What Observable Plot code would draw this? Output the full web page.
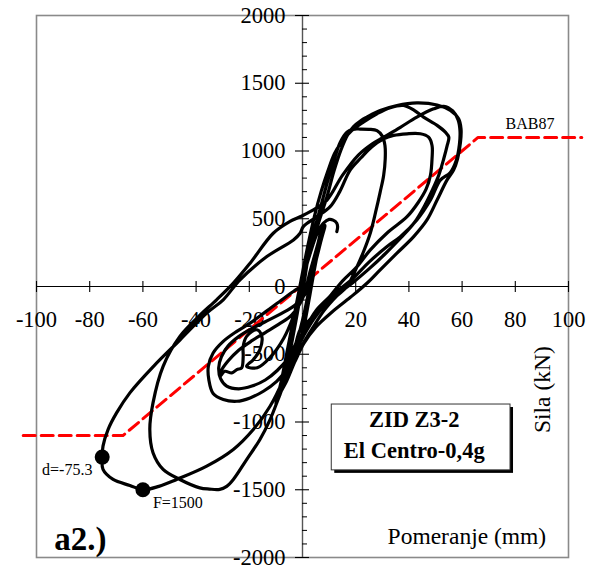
<!DOCTYPE html>
<html>
<head>
<meta charset="utf-8">
<script src="https://cdn.jsdelivr.net/npm/d3@7"></script>
<script src="https://cdn.jsdelivr.net/npm/@observablehq/plot@0.6"></script>
<style>
  body { margin: 0; background: #fff; }
</style>
</head>
<body>
<div id="chart"></div>
<script>
// Hysteresis trace of wall ZID Z3-2 (El Centro 0.4g): displacement [mm], force [kN]
// Early small cycles around the origin
const smallCycles = [
  [0, 0], [-2.1, -20], [-7.2, -90], [-13.4, -180], [-19.7, -270], [-24.7, -331], [-29.8, -405],
  [-33.6, -491], [-35.4, -589], [-35.2, -690], [-33.6, -790], [-29.8, -834], [-24.7, -847],
  [-19.7, -822], [-14.7, -773], [-9.7, -700], [-5.9, -613], [-2.1, -491], [0.5, -300], [2.8, -60],
  [5, 180], [7.2, 380], [8.5, 450],
  [7, 340], [4.5, 150], [1.5, -40], [-3, -140], [-8, -200], [-14, -260], [-19, -310], [-24, -370],
  [-28, -440], [-30.5, -520], [-31.5, -600], [-30.8, -680], [-28.5, -735], [-24, -755], [-19, -735],
  [-14, -690], [-9.5, -620], [-5.5, -530], [-2.5, -420], [0, -250], [2.5, -20], [4.8, 220],
  [6.8, 400], [7.8, 460],
  [6, 330], [3, 120], [0, -90], [-4, -210], [-9, -280], [-14, -340], [-19, -400], [-24, -470],
  [-28, -550], [-30.5, -620], [-31, -663], [-29.2, -626], [-26.6, -638], [-24.7, -613],
  [-22.9, -601], [-22.3, -520], [-22.3, -442], [-21, -368], [-17.2, -319], [-15.3, -368],
  [-16, -466], [-18.5, -540], [-21, -589], [-17, -600], [-12, -520], [-7, -380], [-3, -200],
  [0, -30]
];
// First large positive excursion, reversing at small negative displacement
const cycle1 = [
  [2, 200], [4.5, 420], [7, 600], [9.5, 780], [11.8, 930], [14.2, 1065], [16.7, 1139], [19, 1160],
  [21.7, 1162], [25, 1160], [28, 1150], [30, 1110], [31, 1040], [31.1, 943], [30.5, 820],
  [29.2, 697], [27.5, 550], [25.5, 395], [23, 260], [20.5, 147], [16.7, 0], [12.9, -70],
  [8, -180], [4, -300], [0.3, -420], [-3, -560], [-6, -700], [-8.5, -790], [-9.5, -830],
  [-8, -760], [-5.5, -560], [-3.2, -330], [-1, -90], [0.3, 74], [2.9, 270], [6, 467],
  [9.2, 663], [11.8, 850]
];
// Outer positive loop followed by the inner large negative loop
const cycle2 = [
  [14.5, 1010], [17, 1120], [19.2, 1180], [22, 1225], [24.2, 1250], [29.2, 1299], [35.5, 1336],
  [43, 1355], [50.6, 1340], [55.6, 1299], [58.7, 1237], [59.6, 1163], [59.4, 1065], [58.3, 943],
  [56.8, 860], [54.3, 785], [50.6, 638], [46.8, 491], [41.8, 368], [35.5, 246], [29.2, 123],
  [24, 20], [18, -80], [11, -190], [5, -300], [0.5, -420], [-3, -560], [-6.5, -700],
  [-9.5, -850], [-12.2, -982], [-16, -1129], [-21, -1277], [-26, -1424], [-28.5, -1475],
  [-31.1, -1497], [-35, -1495], [-38.6, -1486], [-46.1, -1424], [-52.4, -1350], [-56.2, -1227],
  [-57.4, -1056], [-56.2, -859], [-52.4, -589], [-46.1, -368], [-39, -220], [-32.3, -98],
  [-26, 25], [-19.7, 172], [-11, 393], [-4.7, 480], [-0.9, 515], [4.1, 565], [9.2, 638]
];
// Second outer positive loop, reversing near the origin
const cycle3 = [
  [15, 820], [21, 970], [26, 1050], [30.5, 1102], [36.8, 1175], [43, 1250], [49.3, 1311],
  [53.1, 1330], [56.5, 1295], [58.5, 1230], [59.2, 1150], [59, 1050], [57.8, 930], [55.5, 840],
  [51.8, 785], [48.1, 638], [43, 491], [36.8, 368], [31.8, 295], [25, 180], [19, 60], [14, -20],
  [9, -120], [4.1, -245], [0.3, -368], [-3.4, -500], [-6, -650], [-8.5, -800], [-10, -870],
  [-8, -700], [-5.5, -450], [-3, -200], [-0.5, 50], [2, 300], [4.5, 520], [7, 700], [9.5, 850],
  [12, 980]
];
// Third positive loop, then the largest negative loop (peak displacement and force)
const cycle4 = [
  [14.5, 1060], [18.5, 1150], [23, 1215], [28, 1275], [33, 1320], [38, 1336], [42, 1300],
  [45.5, 1250], [50.6, 1189], [53.7, 1139], [55, 1102], [54.4, 1041], [53.1, 943], [51.2, 820],
  [49, 720], [46, 600], [42, 470], [37, 360], [31, 240], [25, 130], [19, 30], [13, -60],
  [7, -160], [2, -260], [-0.9, -319], [-3.4, -491], [-7.2, -687], [-12.2, -884], [-18.5, -1056],
  [-26, -1203], [-36, -1326], [-47.3, -1424], [-54, -1475], [-60, -1500], [-64.9, -1468],
  [-71.2, -1424], [-75, -1350], [-75.3, -1259], [-75, -1178], [-73.1, -1056], [-69.9, -933],
  [-64.9, -785], [-56, -589], [-46, -393], [-36, -196], [-29.8, -98], [-23.5, 49], [-13.4, 221],
  [-3.4, 344], [-0.9, 393], [0.3, 442], [5.4, 515], [10.4, 589]
];
// Last positive loop and the closing hook
const cycle5 = [
  [14, 700], [17.9, 859], [22, 950], [26, 1030], [30.5, 1090], [34.2, 1115], [39.3, 1127],
  [44.3, 1127], [47.4, 1102], [48.7, 1041], [48.7, 943], [48.1, 820], [46.5, 720], [43.5, 620],
  [39.3, 515], [31.7, 393], [25.5, 270], [20.5, 147], [15, 40], [10.4, -70], [5, -180],
  [0.5, -330], [-3, -480], [-5.5, -600], [-6.5, -650], [-4.5, -450], [-2, -180], [0.5, 80],
  [3, 250], [5.5, 390], [7.9, 467], [10, 495], [11.5, 490], [12.9, 467], [13.2, 440],
  [12.9, 405]
];

// BAB87 bilinear envelope
const modelDisp = [-105, -67.5, 66, 105];
const modelForce = [-1100, -1100, 1100, 1100];

// Marked peaks
const peakDisp = [-75.3, -60];
const peakForce = [-1259, -1500];
const peakLabels = ["d=-75.3", "F=1500"];

// Axis ticks
const xTicks = [-100, -80, -60, -40, -20, 0, 20, 40, 60, 80, 100];
const xTickLabels = [-100, -80, -60, -40, -20, 20, 40, 60, 80, 100];
const yTicks = [-2000, -1500, -1000, -500, 0, 500, 1000, 1500, 2000];
const yMinor = d3.range(-2000, 2001, 100).filter(v => v % 500 !== 0);

// Annotations (in displacement / force units)
const legendBox = [{x1: 11, x2: 78.2, y1: -1357, y2: -871}];
const legendLines = [
  {x: 42, y: -985, text: "ZID Z3-2"},
  {x: 42, y: -1215, text: "El Centro-0,4g"}
];
const modelLabel = [{x: 85.5, y: 1198, text: "BAB87"}];
const xTitle = [{x: 61.8, y: -1843, text: "Pomeranje (mm)"}];
const yTitle = [{x: 90.1, y: -761, text: "Sila (kN)"}];
const panelTag = [{x: -83.5, y: -1866, text: "a2.)"}];

const trace = [...smallCycles, ...cycle1, ...cycle2, ...cycle3, ...cycle4, ...cycle5];
const model = modelDisp.map((x, i) => ({x, y: modelForce[i]}));
const peaks = peakDisp.map((x, i) => ({x, y: peakForce[i], label: peakLabels[i]}));

const chart = Plot.plot({
  width: 594,
  height: 571,
  marginLeft: 36,
  marginRight: 26,
  marginTop: 15,
  marginBottom: 14,
  x: {domain: [-100, 100], axis: null},
  y: {domain: [-2000, 2000], axis: null},
  style: {fontFamily: "'Liberation Serif', 'Times New Roman', serif", fontSize: "22px", background: "#fff", color: "#000"},
  marks: [
    Plot.frame({stroke: "#8a8a8a", strokeWidth: 1.6}),
    // axes through the origin
    Plot.ruleY([0], {stroke: "#000", strokeWidth: 1.2}),
    Plot.ruleX([0], {stroke: "#555", strokeWidth: 1.4}),
    Plot.ruleX(xTicks, {x: d => d, y1: 0, y2: 0, insetTop: -5, insetBottom: -6, stroke: "#000", strokeWidth: 1.1}),
    Plot.ruleY(yTicks, {y: d => d, x1: 0, x2: 0, insetLeft: -7, insetRight: -7, stroke: "#000", strokeWidth: 1.1}),
    Plot.ruleY(yMinor, {y: d => d, x1: 0, x2: 0, insetLeft: 0, insetRight: -5, stroke: "#000", strokeWidth: 1}),
    Plot.text(xTickLabels, {x: d => d, y: 0, dy: 33, text: d => String(d), fontSize: 22.5}),
    Plot.text(yTicks, {x: 0, y: d => d, dx: -17, textAnchor: "end", text: d => String(d), fontSize: 22.5}),
    // BAB87 envelope
    Plot.line(model, {x: "x", y: "y", stroke: "#ff0000", strokeWidth: 3, strokeDasharray: "12,6"}),
    Plot.text(modelLabel, {x: "x", y: "y", text: "text", fontSize: 16}),
    // measured response
    Plot.line(trace, {x: d => d[0], y: d => d[1], curve: "catmull-rom", stroke: "#000", strokeWidth: 3.2, strokeLinejoin: "round", strokeLinecap: "round"}),
    Plot.dot(peaks, {x: "x", y: "y", r: 7.5, fill: "#000"}),
    Plot.text([peaks[0]], {x: "x", y: "y", text: "label", dx: -35, dy: 13, fontSize: 16}),
    Plot.text([peaks[1]], {x: "x", y: "y", text: "label", dx: 35, dy: 13, fontSize: 16}),
    // specimen box
    Plot.rect(legendBox, {x1: "x1", x2: "x2", y1: "y1", y2: "y2", fill: "#000", dx: 3, dy: 3}),
    Plot.rect(legendBox, {x1: "x1", x2: "x2", y1: "y1", y2: "y2", fill: "#fff", stroke: "#333", strokeWidth: 1}),
    Plot.text(legendLines, {x: "x", y: "y", text: "text", fontWeight: "bold", fontSize: 22.5}),
    // titles
    Plot.text(xTitle, {x: "x", y: "y", text: "text", fontSize: 23.5}),
    Plot.text(yTitle, {x: "x", y: "y", text: "text", rotate: -90, fontSize: 23.5}),
    Plot.text(panelTag, {x: "x", y: "y", text: "text", fontWeight: "bold", fontSize: 33})
  ]
});

document.getElementById("chart").append(chart);
</script>
</body>
</html>
